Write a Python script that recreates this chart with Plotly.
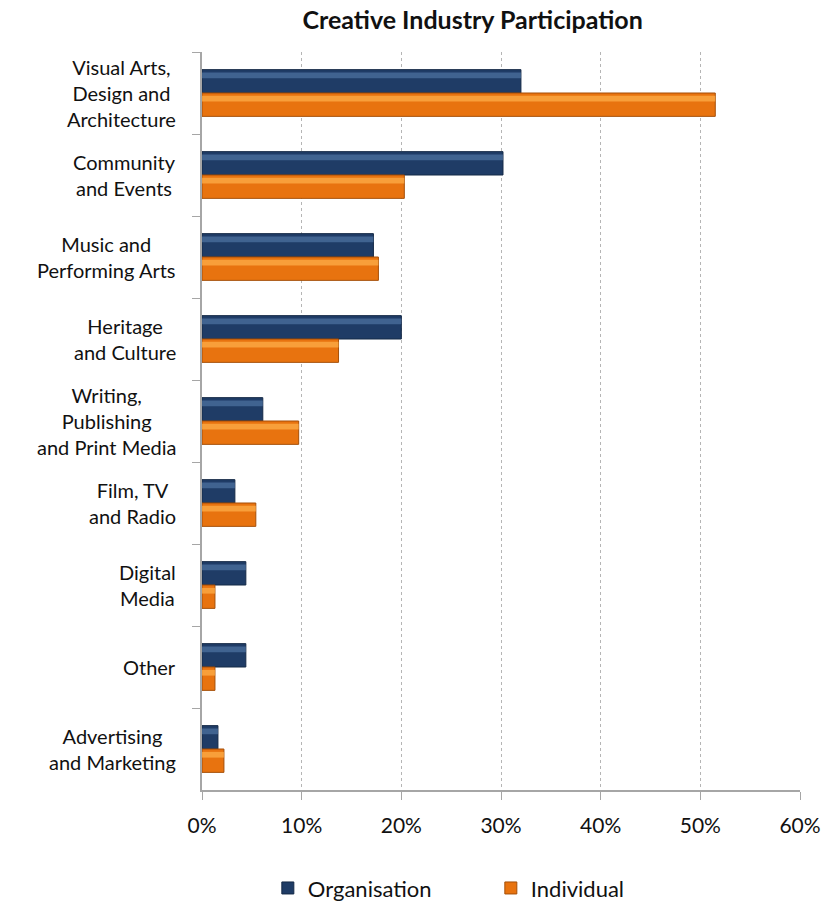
import plotly.graph_objects as go

categories = [
    "Visual Arts,<br>Design and<br>Architecture",
    "Community<br>and Events",
    "Music and<br>Performing Arts",
    "Heritage<br>and Culture",
    "Writing,<br>Publishing<br>and Print Media",
    "Film, TV<br>and Radio",
    "Digital<br>Media",
    "Other",
    "Advertising<br>and Marketing",
]
organisation = [32.0, 30.2, 17.2, 20.0, 6.1, 3.3, 4.4, 4.4, 1.6]
individual = [51.5, 20.3, 17.7, 13.7, 9.7, 5.4, 1.3, 1.3, 2.2]
x_ticks = [0, 10, 20, 30, 40, 50, 60]
x_tick_labels = ["0%", "10%", "20%", "30%", "40%", "50%", "60%"]

FONT = "Lato, 'Open Sans', sans-serif"
TEXT = "#111111"
NAVY, NAVY_EDGE, NAVY_HI = "#1f3c66", "#152a47", "#4f74a3"
ORANGE, ORANGE_EDGE, ORANGE_HI = "#e8730f", "#a54f08", "#fdad4a"
BAR_H = 0.285

fig = go.Figure()

# main bars (organisation above the category centre, individual below)
fig.add_trace(go.Bar(
    y=categories, x=organisation, orientation="h", name="Organisation",
    width=BAR_H, offset=-BAR_H,
    marker=dict(color=NAVY, line=dict(color=NAVY_EDGE, width=1)),
))
fig.add_trace(go.Bar(
    y=categories, x=individual, orientation="h", name="Individual",
    width=BAR_H, offset=0,
    marker=dict(color=ORANGE, line=dict(color=ORANGE_EDGE, width=1)),
))

# lighter strip along the upper edge gives the bevelled look
fig.add_trace(go.Bar(
    y=categories, x=organisation, orientation="h", showlegend=False,
    width=0.07, offset=-BAR_H + 0.035, hoverinfo="skip",
    marker=dict(color=NAVY_HI, opacity=0.7, line=dict(width=0)),
))
fig.add_trace(go.Bar(
    y=categories, x=individual, orientation="h", showlegend=False,
    width=0.07, offset=0.035, hoverinfo="skip",
    marker=dict(color=ORANGE_HI, opacity=0.75, line=dict(width=0)),
))

# category labels, centred line by line
for cat in categories:
    fig.add_annotation(
        x=-0.04, xref="paper", y=cat, yref="y",
        text=cat, showarrow=False, xanchor="right", yanchor="middle",
        align="center", font=dict(family=FONT, size=20, color=TEXT),
    )

fig.update_layout(
    width=822, height=903,
    margin=dict(l=202, r=22, t=52, b=113, autoexpand=False),
    paper_bgcolor="white", plot_bgcolor="white",
    barmode="overlay",
    title=dict(
        text="<b>Creative Industry Participation</b>",
        x=0.575, xref="container", xanchor="center",
        y=0.978, yref="container", yanchor="middle",
        font=dict(family=FONT, size=25, color=TEXT),
    ),
    font=dict(family=FONT, color=TEXT),
    legend=dict(
        orientation="h", x=0.483, xanchor="center", xref="paper",
        y=-0.133, yanchor="middle", yref="paper",
        font=dict(family=FONT, size=22, color=TEXT),
        entrywidth=178, itemwidth=30,
        traceorder="normal",
    ),
    showlegend=True,
)

fig.update_xaxes(
    range=[0, 60], tickvals=x_ticks, ticktext=x_tick_labels,
    showgrid=True, gridcolor="#b5b5b5", griddash="dot", gridwidth=1,
    showline=True, linecolor="#a6a6a6", linewidth=2,
    ticks="outside", ticklen=8, tickcolor="#a6a6a6", tickwidth=1,
    ticklabelstandoff=8, automargin=False,
    tickfont=dict(family=FONT, size=21, color=TEXT),
    zeroline=False, fixedrange=True,
)
fig.update_yaxes(
    autorange="reversed", showticklabels=False, automargin=False,
    showline=True, linecolor="#a6a6a6", linewidth=2,
    ticks="outside", ticklen=8, tickcolor="#a6a6a6", tickwidth=1,
    tickson="boundaries", showgrid=False, fixedrange=True,
)

fig.write_html("out.html")
